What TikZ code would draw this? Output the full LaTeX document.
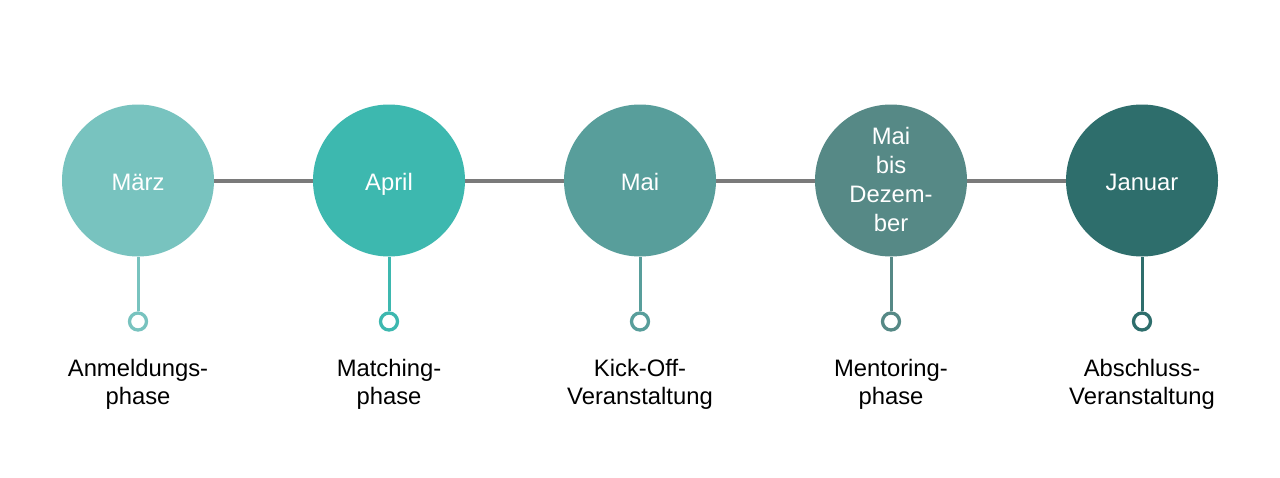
\documentclass[tikz,border=0pt]{standalone}
\usepackage{fontspec}
\setmainfont{Liberation Sans}
\definecolor{cA}{HTML}{78C3BF}
\definecolor{cB}{HTML}{3DB8AF}
\definecolor{cC}{HTML}{589E9B}
\definecolor{cD}{HTML}{568986}
\definecolor{cE}{HTML}{2E6E6C}
\definecolor{linegray}{HTML}{7A7A7A}
\newcommand{\vs}{\vphantom{Äpg}}
\newcommand{\vt}{\rule[-5pt]{0pt}{29pt}}
\begin{document}
\begin{tikzpicture}[x=1pt,y=-1pt,
  bigc/.style={circle, minimum size=152pt, inner sep=0pt, text=white, align=center,
    font=\fontsize{23.8}{28.8}\selectfont},
  dotc/.style={circle, draw=#1, line width=3.3pt, fill=white, minimum size=17pt, inner sep=0pt},
  stem/.style={draw=#1, line width=3pt},
  link/.style={draw=linegray, line width=4pt},
  lbl/.style={align=center, text=black, font=\fontsize{23.8}{27.5}\selectfont}]
\useasboundingbox (0,0) rectangle (1280,477);
\fill[white] (0,0) rectangle (1280,477);
\coordinate (l1) at (214,180.5);
\coordinate (l2) at (1066,180.5);
\draw[link] (l1) -- (l2);
\foreach \i/\x/\c/\t/\l in {1/138/cA/{\vt März}/{Anmeldungs-\\phase},
  2/389/cB/{\vt April}/{Matching-\\phase},
  3/640/cC/{\vt Mai}/{Kick-Off-\\Veranstaltung},
  4/891/cD/{\vs Mai\\bis\\Dezem-\\ber\vs}/{Mentoring-\\phase},
  5/1142/cE/{\vt Januar}/{Abschluss-\\Veranstaltung}} {
  \node[bigc, fill=\c] (c\i) at (\x,180.5) {\t};
  \node[dotc=\c] (d\i) at (\x,321.5) {};
  \draw[stem=\c] (c\i.south) -- (d\i.north);
  \node[lbl] (t\i) at (\x,383) {\vs\l\vs};
}
\end{tikzpicture}
\end{document}
